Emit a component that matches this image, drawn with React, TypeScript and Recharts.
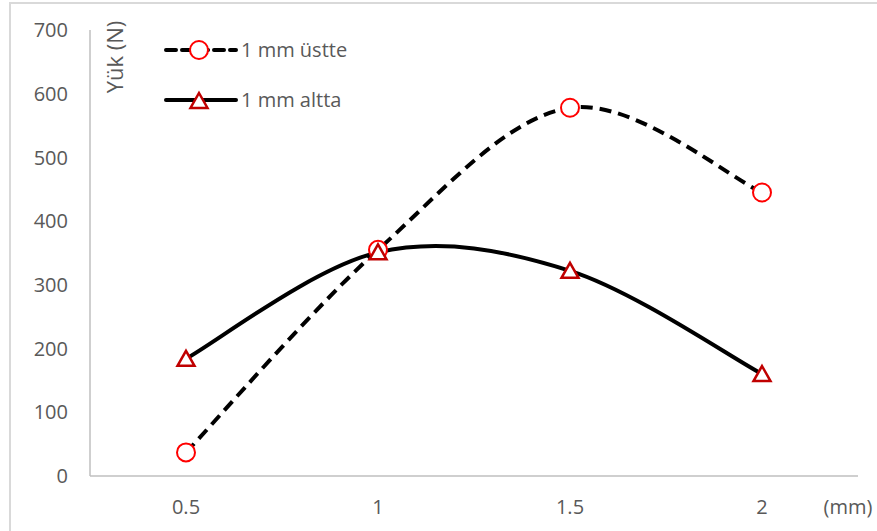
import React from 'react';
import { LineChart, Line, XAxis, YAxis, Legend } from 'recharts';

const categories = ['0.5', '1', '1.5', '2'];
const ustte = [37, 355, 578, 445];
const altta = [184, 351, 322, 160];
const yTicks = [0, 100, 200, 300, 400, 500, 600, 700];

const SERIES = [
  { key: 'ustte', name: '1 mm üstte', dash: '10 6', marker: 'circle' },
  { key: 'altta', name: '1 mm altta', dash: undefined, marker: 'triangle' },
];

const data = categories.map((c, i) => ({ x: c, ustte: ustte[i], altta: altta[i] }));

const FONT = '"Open Sans", sans-serif';
const TEXT = '#595959';
const GRID = '#BFBFBF';

// Excel-like smoothing (Catmull-Rom converted to cubic beziers)
const excelSmooth = (context: any) => {
  let pts: number[][] = [];
  return {
    areaStart() {},
    areaEnd() {},
    lineStart() {
      pts = [];
    },
    point(x: number, y: number) {
      pts.push([+x, +y]);
    },
    lineEnd() {
      if (!pts.length) return;
      context.moveTo(pts[0][0], pts[0][1]);
      for (let i = 0; i < pts.length - 1; i++) {
        const p0 = pts[Math.max(0, i - 1)];
        const p1 = pts[i];
        const p2 = pts[i + 1];
        const p3 = pts[Math.min(pts.length - 1, i + 2)];
        context.bezierCurveTo(
          p1[0] + (p2[0] - p0[0]) / 6,
          p1[1] + (p2[1] - p0[1]) / 6,
          p2[0] - (p3[0] - p1[0]) / 6,
          p2[1] - (p3[1] - p1[1]) / 6,
          p2[0],
          p2[1],
        );
      }
    },
  };
};

const CircleDot = (props: any) => {
  const { cx, cy } = props;
  if (cx == null || cy == null) return null;
  return <circle cx={cx} cy={cy} r={9} fill="#fff" stroke="#FF0000" strokeWidth={2} />;
};

const TriangleDot = (props: any) => {
  const { cx, cy } = props;
  if (cx == null || cy == null) return null;
  const pts = `${cx},${cy - 8} ${cx + 8.5},${cy + 7} ${cx - 8.5},${cy + 7}`;
  return <polygon points={pts} fill="#fff" stroke="#C00000" strokeWidth={2.5} strokeLinejoin="miter" />;
};

function LegendContent() {
  return (
    <div style={{ fontFamily: FONT, fontSize: 20, color: TEXT }}>
      {SERIES.map((s, i) => (
        <div
          key={s.key}
          style={{ display: 'flex', alignItems: 'center', height: 22, marginBottom: i === 0 ? 28 : 0 }}
        >
          <svg width={78} height={22}>
            <line x1={3} y1={11} x2={73} y2={11} stroke="#000" strokeWidth={4} strokeDasharray={s.dash} strokeLinecap="round" />
            {s.marker === 'circle' ? <CircleDot cx={36} cy={11} /> : <TriangleDot cx={36} cy={12} />}
          </svg>
          <span style={{ lineHeight: '22px' }}>{s.name}</span>
        </div>
      ))}
    </div>
  );
}

export default function App() {
  return (
    <div style={{ position: 'absolute', left: 0, top: 0, width: 877, height: 531, background: '#fff' }}>
      <div
        style={{
          position: 'absolute',
          left: 9,
          top: 2,
          width: 880,
          height: 540,
          borderLeft: '2px solid #D9D9D9',
          borderTop: '2px solid #D9D9D9',
        }}
      />
      <LineChart width={877} height={531} data={data} margin={{ top: 30, right: 19, left: 30, bottom: 15 }}>
        <XAxis
          dataKey="x"
          padding={{ left: 96, right: 96 }}
          axisLine={{ stroke: GRID, strokeWidth: 1.5 }}
          tickLine={false}
          tickSize={0}
          tickMargin={24}
          height={40}
          tick={{ fill: TEXT, fontSize: 20, fontFamily: FONT }}
          label={{
            content: () => (
              <text x={848} y={514} textAnchor="middle" fill={TEXT} fontSize={20} fontFamily={FONT}>
                (mm)
              </text>
            ),
          }}
        />
        <YAxis
          domain={[0, 700]}
          ticks={yTicks}
          width={60}
          axisLine={{ stroke: GRID, strokeWidth: 1.5 }}
          tickLine={false}
          tickSize={0}
          tickMargin={22}
          tick={{ fill: TEXT, fontSize: 20, fontFamily: FONT }}
          label={{
            content: () => (
              <text
                x={114}
                y={57}
                transform="rotate(-90 114 57)"
                textAnchor="middle"
                dominantBaseline="central"
                fill={TEXT}
                fontSize={22}
                fontFamily={FONT}
              >
                Yük (N)
              </text>
            ),
          }}
        />
        <Legend
          layout="vertical"
          align="center"
          verticalAlign="middle"
          content={<LegendContent />}
          wrapperStyle={{ left: 163, top: 39, width: 'auto' }}
        />
        <Line
          dataKey="ustte"
          name="1 mm üstte"
          type={excelSmooth as any}
          stroke="#000"
          strokeWidth={4}
          strokeDasharray="12 7"
          dot={<CircleDot />}
          activeDot={false}
          isAnimationActive={false}
        />
        <Line
          dataKey="altta"
          name="1 mm altta"
          type={excelSmooth as any}
          stroke="#000"
          strokeWidth={4}
          dot={<TriangleDot />}
          activeDot={false}
          isAnimationActive={false}
        />
      </LineChart>
    </div>
  );
}
